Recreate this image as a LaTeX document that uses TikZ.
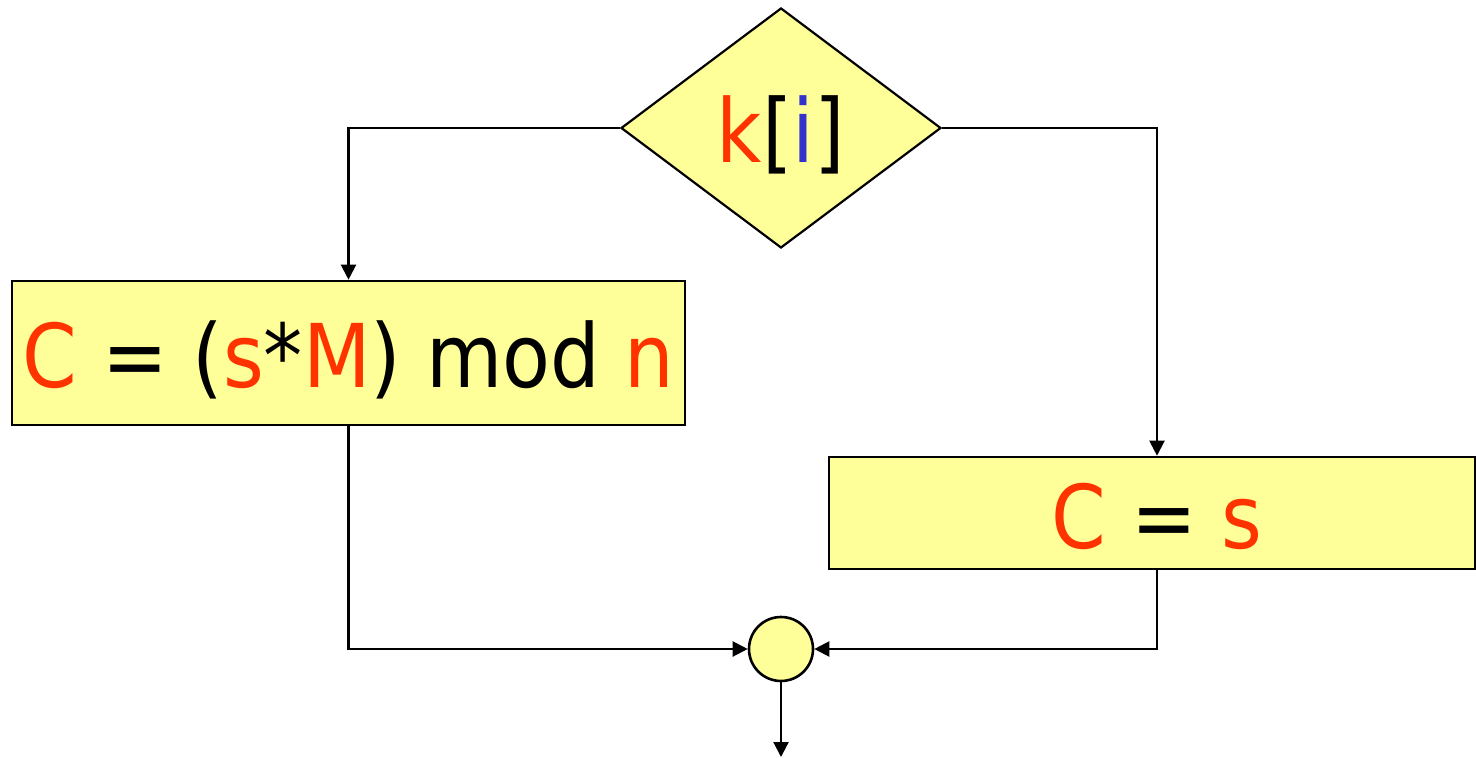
\documentclass[tikz,border=0pt]{standalone}
\usepackage{fontspec}
\setmainfont[FakeStretch=0.89]{DejaVu Sans}
\usepackage{xcolor}
\usetikzlibrary{arrows.meta, shapes.geometric}
\definecolor{boxyellow}{HTML}{FFFF99}
\definecolor{varred}{HTML}{FF3300}
\definecolor{idxblue}{HTML}{3333CC}
\newcommand{\vr}[1]{\textcolor{varred}{#1}}
\newcommand{\vi}[1]{\textcolor{idxblue}{#1}}

\begin{document}
\begin{tikzpicture}[
  x = 0.5pt, y = -0.5pt,
  txt/.style   = {font=\fontsize{44}{50}\selectfont, text height=35pt,
                  text depth=0pt, inner sep=0pt},
  box/.style   = {draw, txt, line width=1.3pt, fill=boxyellow, align=center},
  cond/.style  = {draw, diamond, txt, line width=1.1pt, fill=boxyellow,
                  minimum width=160pt, minimum height=120pt, aspect=1.333},
  merge/.style = {draw, circle, line width=1.3pt, fill=boxyellow,
                  minimum size=32pt, inner sep=0pt},
  arr/.style   = {-{Triangle[length=7.5pt, width=7.5pt]}, line width=1.1pt},
]
  \useasboundingbox (0,0) rectangle (1476,758);
  \node[cond] (dec) at (781,128) {\vr{k}[\vi{i}]};
  \node[box, minimum width=336.5pt, minimum height=72pt] (cbox) at (348.5,353)
    {\vr{C} = (\vr{s}*\vr{M}) mod \vr{n}};
  \node[box, minimum width=323pt, minimum height=56pt] (sbox) at (1152,513)
    {\hspace{5pt}\vr{C} = \vr{s}};
  \node[merge] (join) at (781,649) {};
  \coordinate (out) at (781,757);
  \draw[arr] (dec.west) -| (cbox.north);
  \draw[arr] (dec.east) -| ([xshift=2.5pt]sbox.north);
  \draw[arr] (cbox.south) |- (join.west);
  \draw[arr] ([xshift=2.5pt]sbox.south) |- (join.east);
  \draw[arr] (join.south) -- (out);
\end{tikzpicture}
\end{document}
